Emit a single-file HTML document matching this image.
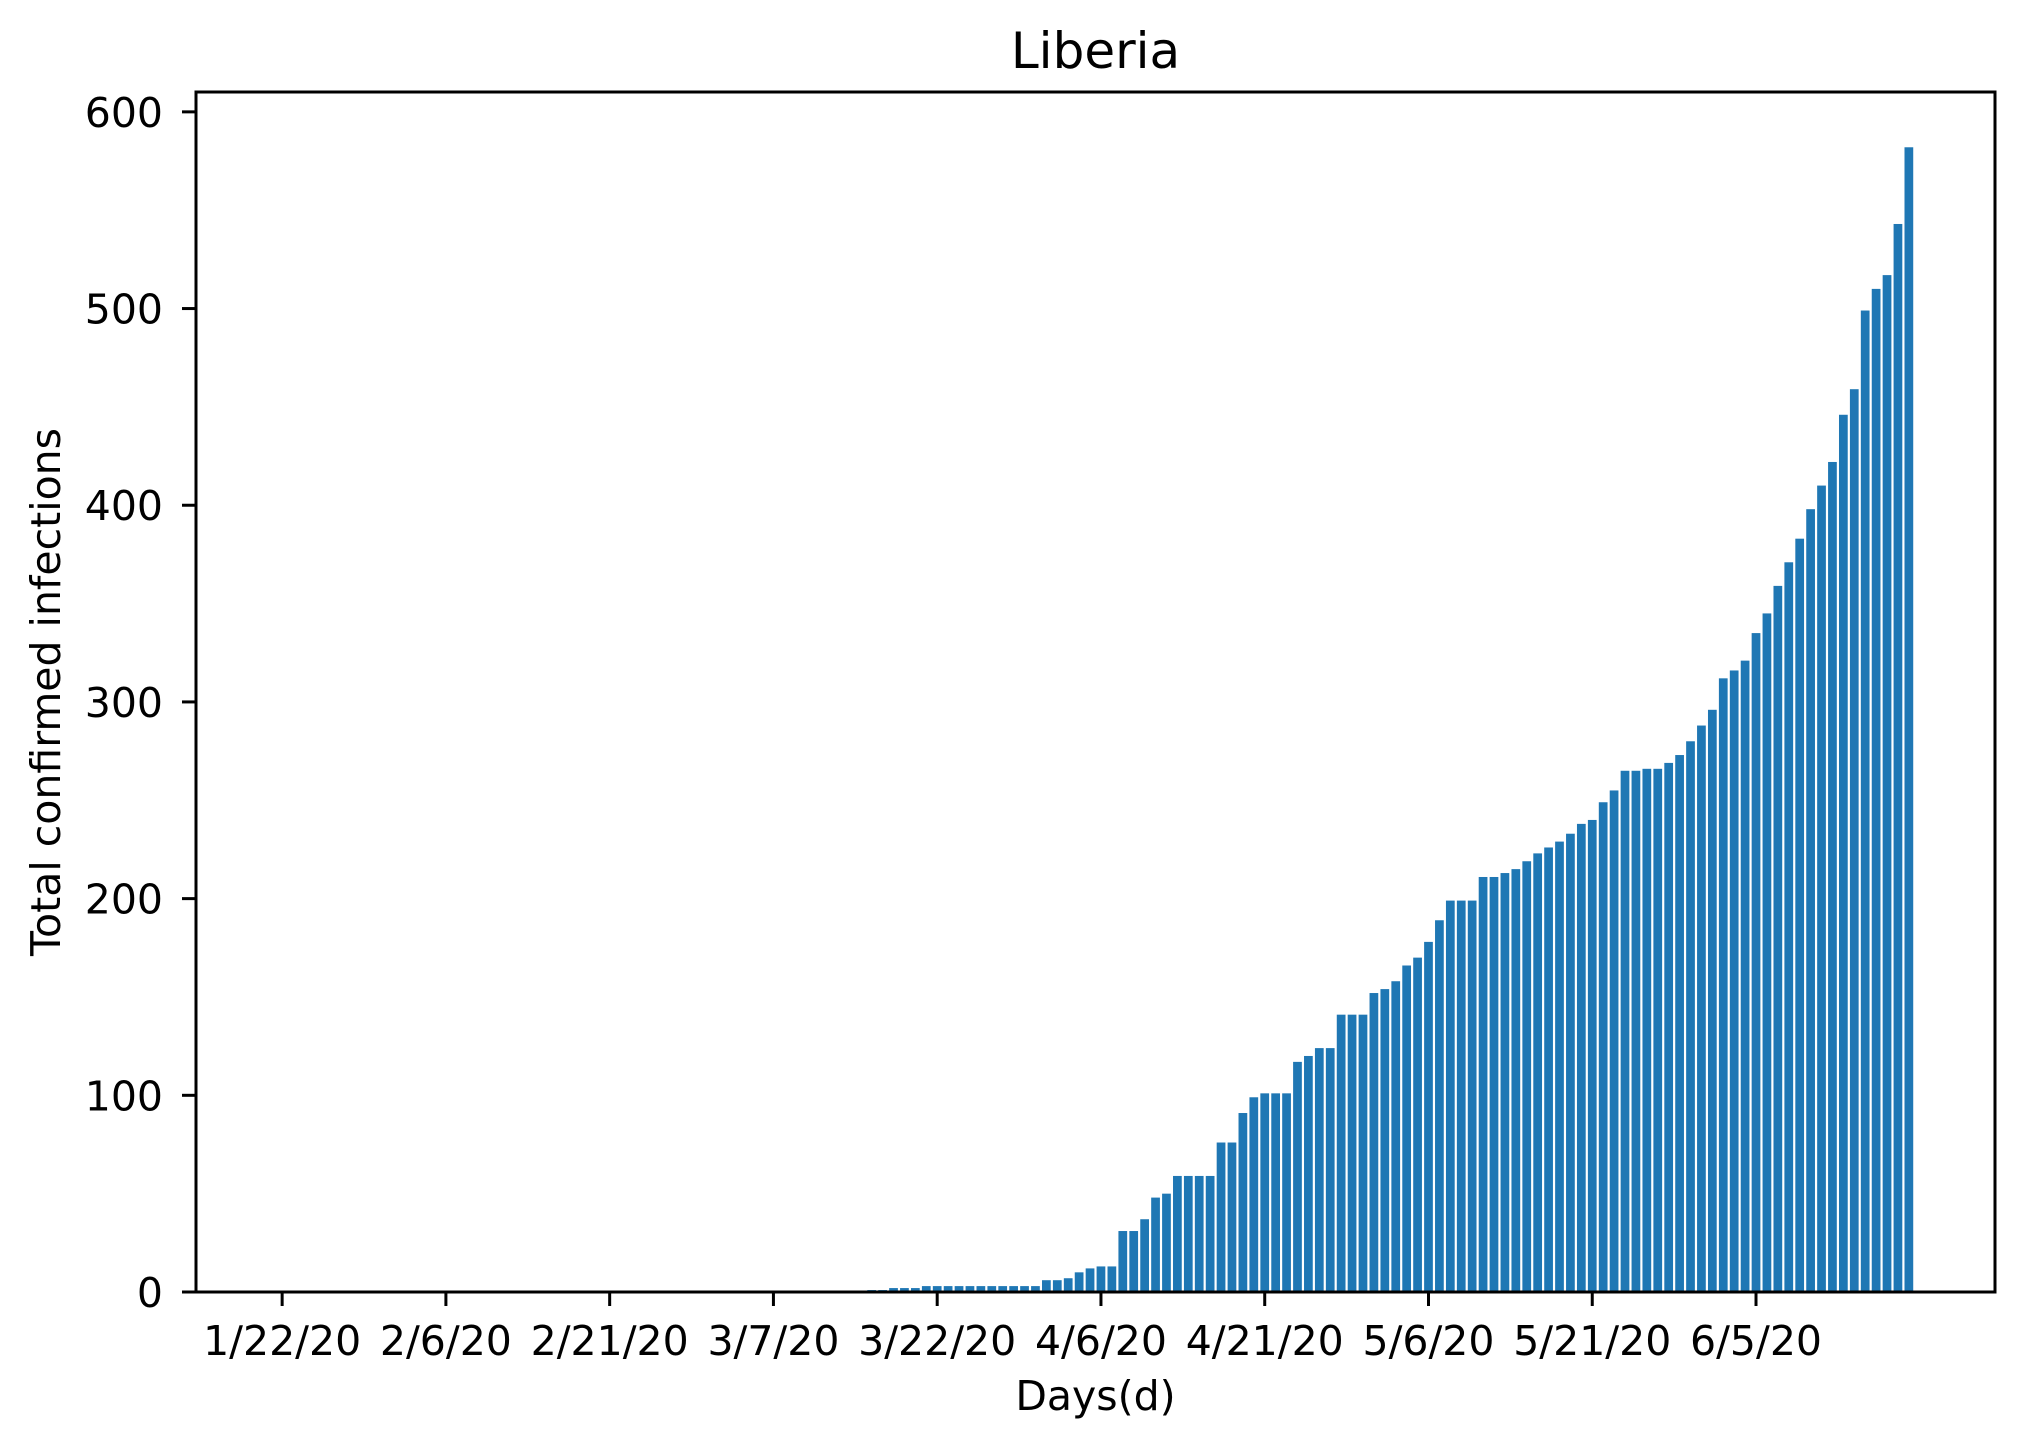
<!DOCTYPE html>
<html><head><meta charset="utf-8"><style>
html,body{margin:0;padding:0;background:#fff;}
svg{display:block;font-family:"DejaVu Sans","Liberation Sans",sans-serif;}
</style></head><body>
<svg id="chart" width="2025" height="1448" viewBox="0 0 2025 1448" xmlns="http://www.w3.org/2000/svg">
<rect x="0" y="0" width="2025" height="1448" fill="#fff"/>
<text x="1095.5" y="68" font-size="50" text-anchor="middle">Liberia</text>
<g id="bars"></g>
<g id="xticks"></g>
<g id="yticks"></g>
<rect x="196" y="92" width="1799" height="1200" fill="none" stroke="#000" stroke-width="3"/>
<text x="1095.5" y="1410" font-size="41" text-anchor="middle">Days(d)</text>
<text x="0" y="0" font-size="41" text-anchor="middle" transform="translate(60,692) rotate(-90)">Total confirmed infections</text>
</svg>
<script>
const xTickLabels = ["1/22/20","2/6/20","2/21/20","3/7/20","3/22/20","4/6/20","4/21/20","5/6/20","5/21/20","6/5/20"];
const xTickIndex = [0,15,30,45,60,75,90,105,120,135];
const yTicks = [0,100,200,300,400,500,600];
const earlyValues = [1,1,2,2,2,3,3,3,3,3,3,3,3,3,3,3,6,6,7,10,12,13,13,31,31,37,48,50,59,59,59,59,76,76,91,99,101,101,101];
const midValues = [117,120,124,124,141,141,141,152,154,158,166,170,178,189,199,199,199,211,211,213,215,219,223,226,229,233,238,240,249];
const lateValues = [255,265,265,266,266,269,273,280,288,296,312,316,321,335,345,359,371,383,398,410,422,446,459,499,510,517,543,582];
const firstCaseIndex = 54;
const numDays = 150;

const values = [];
for (let i = 0; i < firstCaseIndex; i++) values.push(0);
earlyValues.concat(midValues, lateValues).forEach(v => values.push(v));

const L = 196, R = 1995, T = 92, B = 1292;
const xMin = -7.89, xMax = 156.89;
const yMax = 610.1;
function xs(i){ return L + (i - xMin) / (xMax - xMin) * (R - L); }
function ys(v){ return B - v / yMax * (B - T); }
const NS = "http://www.w3.org/2000/svg";
const bw = 0.8 * (R - L) / (xMax - xMin);

const gb = document.getElementById("bars");
values.forEach((v, i) => {
  if (v <= 0) return;
  const r = document.createElementNS(NS, "rect");
  r.setAttribute("x", xs(i) - bw/2);
  r.setAttribute("y", ys(v));
  r.setAttribute("width", bw);
  r.setAttribute("height", B - ys(v));
  r.setAttribute("fill", "#1f77b4");
  
  
  gb.appendChild(r);
});

const gx = document.getElementById("xticks");
xTickLabels.forEach((lab, k) => {
  const x = xs(xTickIndex[k]);
  const ln = document.createElementNS(NS, "line");
  ln.setAttribute("x1", x); ln.setAttribute("x2", x);
  ln.setAttribute("y1", B); ln.setAttribute("y2", B + 14);
  ln.setAttribute("stroke", "#000"); ln.setAttribute("stroke-width", "3");
  
  
  gx.appendChild(ln);
  const t = document.createElementNS(NS, "text");
  t.setAttribute("x", x); t.setAttribute("y", 1355);
  t.setAttribute("font-size", "41"); t.setAttribute("text-anchor", "middle");
  t.textContent = lab;
  
  
  gx.appendChild(t);
});

const gy = document.getElementById("yticks");
yTicks.forEach(v => {
  const y = ys(v);
  const ln = document.createElementNS(NS, "line");
  ln.setAttribute("x1", L - 14); ln.setAttribute("x2", L);
  ln.setAttribute("y1", y); ln.setAttribute("y2", y);
  ln.setAttribute("stroke", "#000"); ln.setAttribute("stroke-width", "3");
  
  
  gy.appendChild(ln);
  const t = document.createElementNS(NS, "text");
  t.setAttribute("x", 163); t.setAttribute("y", y + 15);
  t.setAttribute("font-size", "41"); t.setAttribute("text-anchor", "end");
  t.textContent = String(v);
  
  
  gy.appendChild(t);
});
</script>
</body></html>
